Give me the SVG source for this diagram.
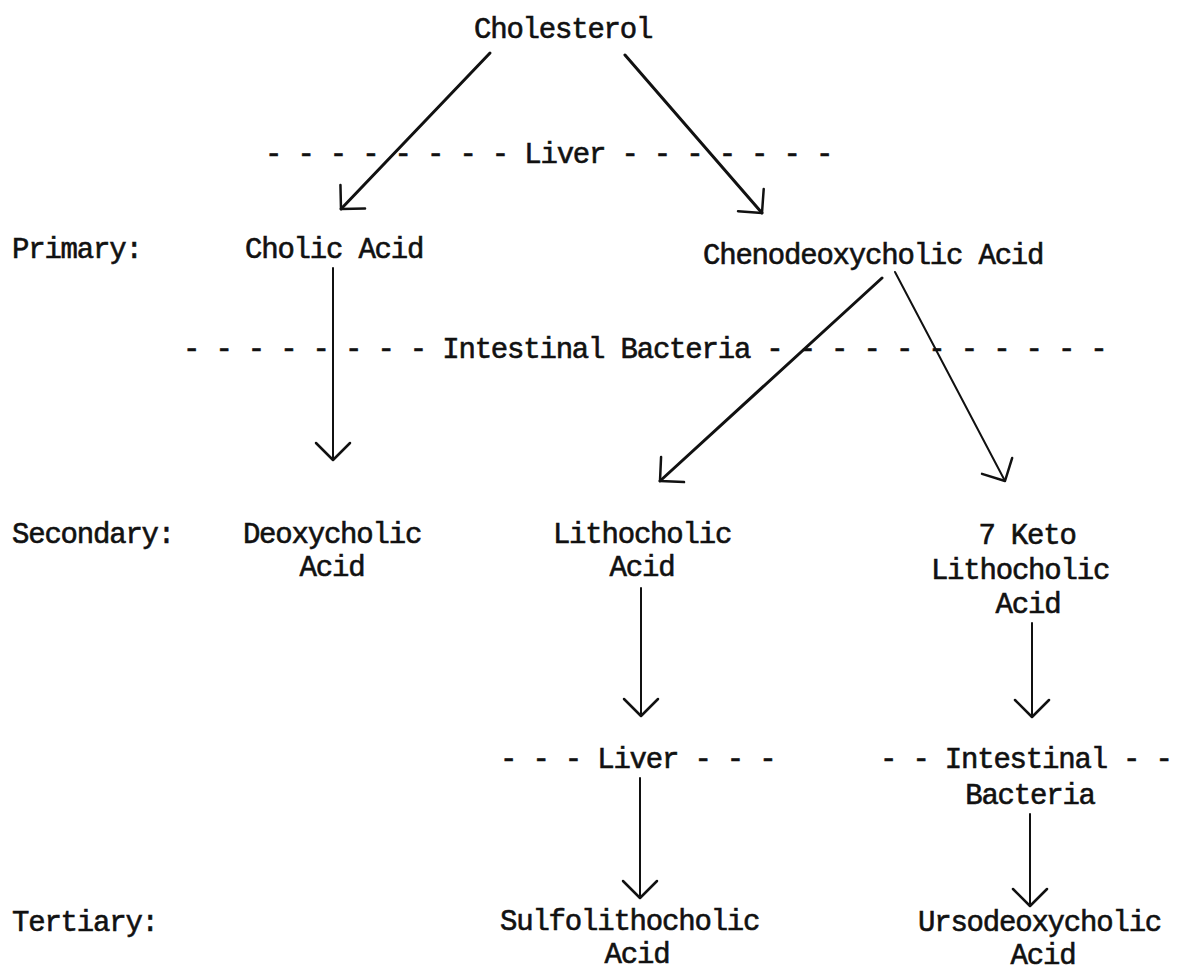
<svg xmlns="http://www.w3.org/2000/svg" width="1179" height="973" viewBox="0 0 1179 973">
<defs>
<style>
text{font-family:"Liberation Mono","Courier New",monospace;font-size:29px;letter-spacing:-1.2px;fill:#111;stroke:#111;stroke-width:0.6;}
.c{text-anchor:middle}
.ln{stroke:#111;fill:none;stroke-linecap:round}
.thk{stroke-width:3}
.thn{stroke-width:2}
</style>
<marker id="ah" markerUnits="userSpaceOnUse" markerWidth="50" markerHeight="50" refX="0" refY="0" viewBox="-25 -25 50 50" orient="auto" overflow="visible">
<path d="M-17,-17 L0,0 L-17,17" fill="none" stroke="#111" stroke-width="2.5" stroke-linecap="round" stroke-linejoin="round"/>
</marker>
</defs>
<rect width="1179" height="973" fill="#fff"/>

<g id="row-labels">
<text x="12" y="258">Primary:</text>
<text x="12" y="543">Secondary:</text>
<text x="12" y="931">Tertiary:</text>
</g>

<g id="separators">
<text x="265" y="163">- - - - - - - - Liver - - - - - - -</text>
<text x="183" y="358">- - - - - - - - Intestinal Bacteria - - - - - - - - - - -</text>
<text x="500" y="768">- - - Liver - - -</text>
<text x="880" y="768">- - Intestinal - -</text>
<text class="c" x="1030" y="804">Bacteria</text>
</g>

<g id="cholesterol"><text x="474" y="38">Cholesterol</text></g>
<g id="cholic-acid"><text x="245" y="258">Cholic Acid</text></g>
<g id="chenodeoxycholic-acid"><text x="703" y="264">Chenodeoxycholic Acid</text></g>
<g id="deoxycholic-acid">
<text class="c" x="332" y="543">Deoxycholic</text>
<text class="c" x="332" y="576">Acid</text>
</g>
<g id="lithocholic-acid">
<text class="c" x="642" y="543">Lithocholic</text>
<text class="c" x="642" y="576">Acid</text>
</g>
<g id="keto-lithocholic-acid">
<text class="c" x="1027" y="544">7 Keto</text>
<text class="c" x="1020" y="579">Lithocholic</text>
<text class="c" x="1028" y="613">Acid</text>
</g>
<g id="sulfolithocholic-acid">
<text x="500" y="930">Sulfolithocholic</text>
<text class="c" x="637" y="963">Acid</text>
</g>
<g id="ursodeoxycholic-acid">
<text x="918" y="931">Ursodeoxycholic</text>
<text class="c" x="1043" y="964">Acid</text>
</g>

<g id="connectors">
<line class="ln thk" x1="490" y1="53" x2="341" y2="209" marker-end="url(#ah)"/>
<line class="ln thk" x1="625" y1="55" x2="762" y2="213" marker-end="url(#ah)"/>
<line class="ln thn" x1="333" y1="268" x2="333" y2="460" marker-end="url(#ah)"/>
<line class="ln thk" x1="882" y1="278" x2="660" y2="481" marker-end="url(#ah)"/>
<line class="ln thn" x1="895" y1="272" x2="1005" y2="481" marker-end="url(#ah)"/>
<line class="ln thn" x1="641" y1="588" x2="641" y2="716" marker-end="url(#ah)"/>
<line class="ln thn" x1="1032" y1="623" x2="1032" y2="717" marker-end="url(#ah)"/>
<line class="ln thn" x1="640" y1="778" x2="640" y2="898" marker-end="url(#ah)"/>
<line class="ln thn" x1="1030" y1="814" x2="1030" y2="906" marker-end="url(#ah)"/>
</g>
</svg>
